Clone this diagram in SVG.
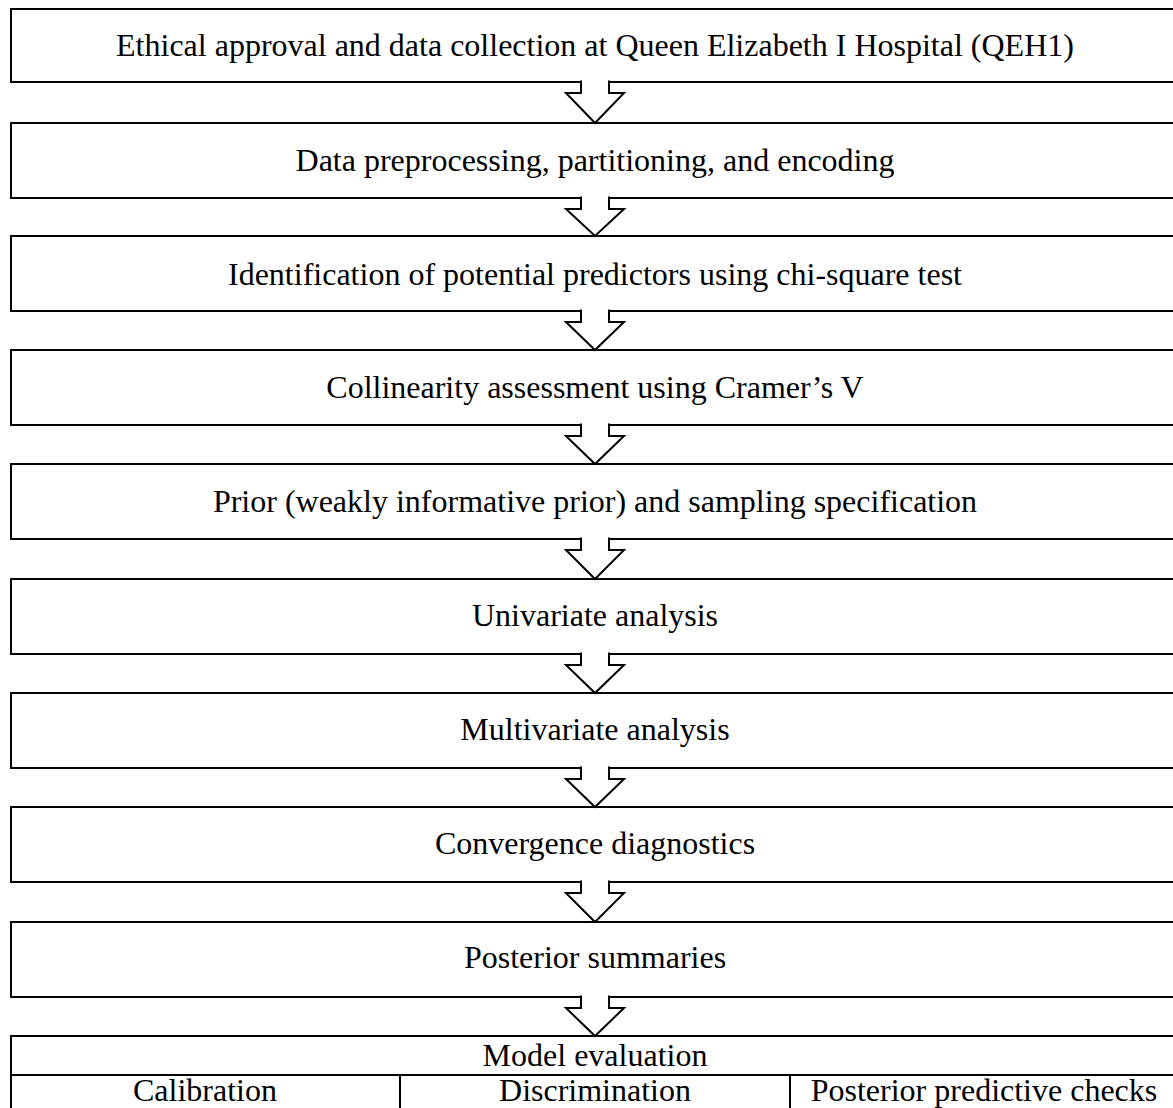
<svg xmlns="http://www.w3.org/2000/svg" width="1173" height="1108" viewBox="0 0 1173 1108">
<style>
.box{fill:#fff;stroke:#000;stroke-width:2}
.ln{stroke:#000;stroke-width:2;fill:none}
.t{font-family:"Liberation Serif","Times New Roman",serif;font-size:32px;fill:#000;text-anchor:middle}
.arr{fill:#fff;stroke:#000;stroke-width:2;stroke-linejoin:miter}
</style>
<rect width="1173" height="1108" fill="#fff"/>
<g id="n1"><rect class="box" x="11" y="9" width="1170" height="73"/><text class="t" x="595" y="56">Ethical approval and data collection at Queen Elizabeth I Hospital (QEH1)</text></g>
<g id="n2"><rect class="box" x="11" y="123" width="1170" height="75"/><text class="t" x="595" y="171">Data preprocessing, partitioning, and encoding</text></g>
<g id="n3"><rect class="box" x="11" y="236" width="1170" height="75"/><text class="t" x="595" y="285">Identification of potential predictors using chi-square test</text></g>
<g id="n4"><rect class="box" x="11" y="350" width="1170" height="75"/><text class="t" x="595" y="398">Collinearity assessment using Cramer’s V</text></g>
<g id="n5"><rect class="box" x="11" y="464" width="1170" height="75"/><text class="t" x="595" y="512">Prior (weakly informative prior) and sampling specification</text></g>
<g id="n6"><rect class="box" x="11" y="579" width="1170" height="75"/><text class="t" x="595" y="626">Univariate analysis</text></g>
<g id="n7"><rect class="box" x="11" y="693" width="1170" height="75"/><text class="t" x="595" y="740">Multivariate analysis</text></g>
<g id="n8"><rect class="box" x="11" y="807" width="1170" height="75"/><text class="t" x="595" y="854">Convergence diagnostics</text></g>
<g id="n9"><rect class="box" x="11" y="922" width="1170" height="75"/><text class="t" x="595" y="968">Posterior summaries</text></g>
<g id="n10">
<rect class="box" x="11" y="1036" width="1170" height="90"/>
<line class="ln" x1="11" y1="1075" x2="1181" y2="1075"/>
<line class="ln" x1="400" y1="1075" x2="400" y2="1110"/>
<line class="ln" x1="790" y1="1075" x2="790" y2="1110"/>
<text class="t" x="595" y="1066">Model evaluation</text>
<text class="t" x="205" y="1101">Calibration</text>
<text class="t" x="595" y="1101">Discrimination</text>
<text class="t" x="984" y="1101">Posterior predictive checks</text>
</g>
<g id="connectors">
<path class="arr" d="M581,80.5 V93 H566 L595,123 L624,93 H609 V80.5"/>
<path class="arr" d="M581,196.5 V209 H566 L595,236 L624,209 H609 V196.5"/>
<path class="arr" d="M581,309.5 V322 H566 L595,350 L624,322 H609 V309.5"/>
<path class="arr" d="M581,423.5 V436 H566 L595,464 L624,436 H609 V423.5"/>
<path class="arr" d="M581,537.5 V550 H566 L595,579 L624,550 H609 V537.5"/>
<path class="arr" d="M581,652.5 V665 H566 L595,693 L624,665 H609 V652.5"/>
<path class="arr" d="M581,766.5 V779 H566 L595,807 L624,779 H609 V766.5"/>
<path class="arr" d="M581,880.5 V893 H566 L595,922 L624,893 H609 V880.5"/>
<path class="arr" d="M581,995.5 V1008 H566 L595,1036 L624,1008 H609 V995.5"/>
</g>
</svg>
